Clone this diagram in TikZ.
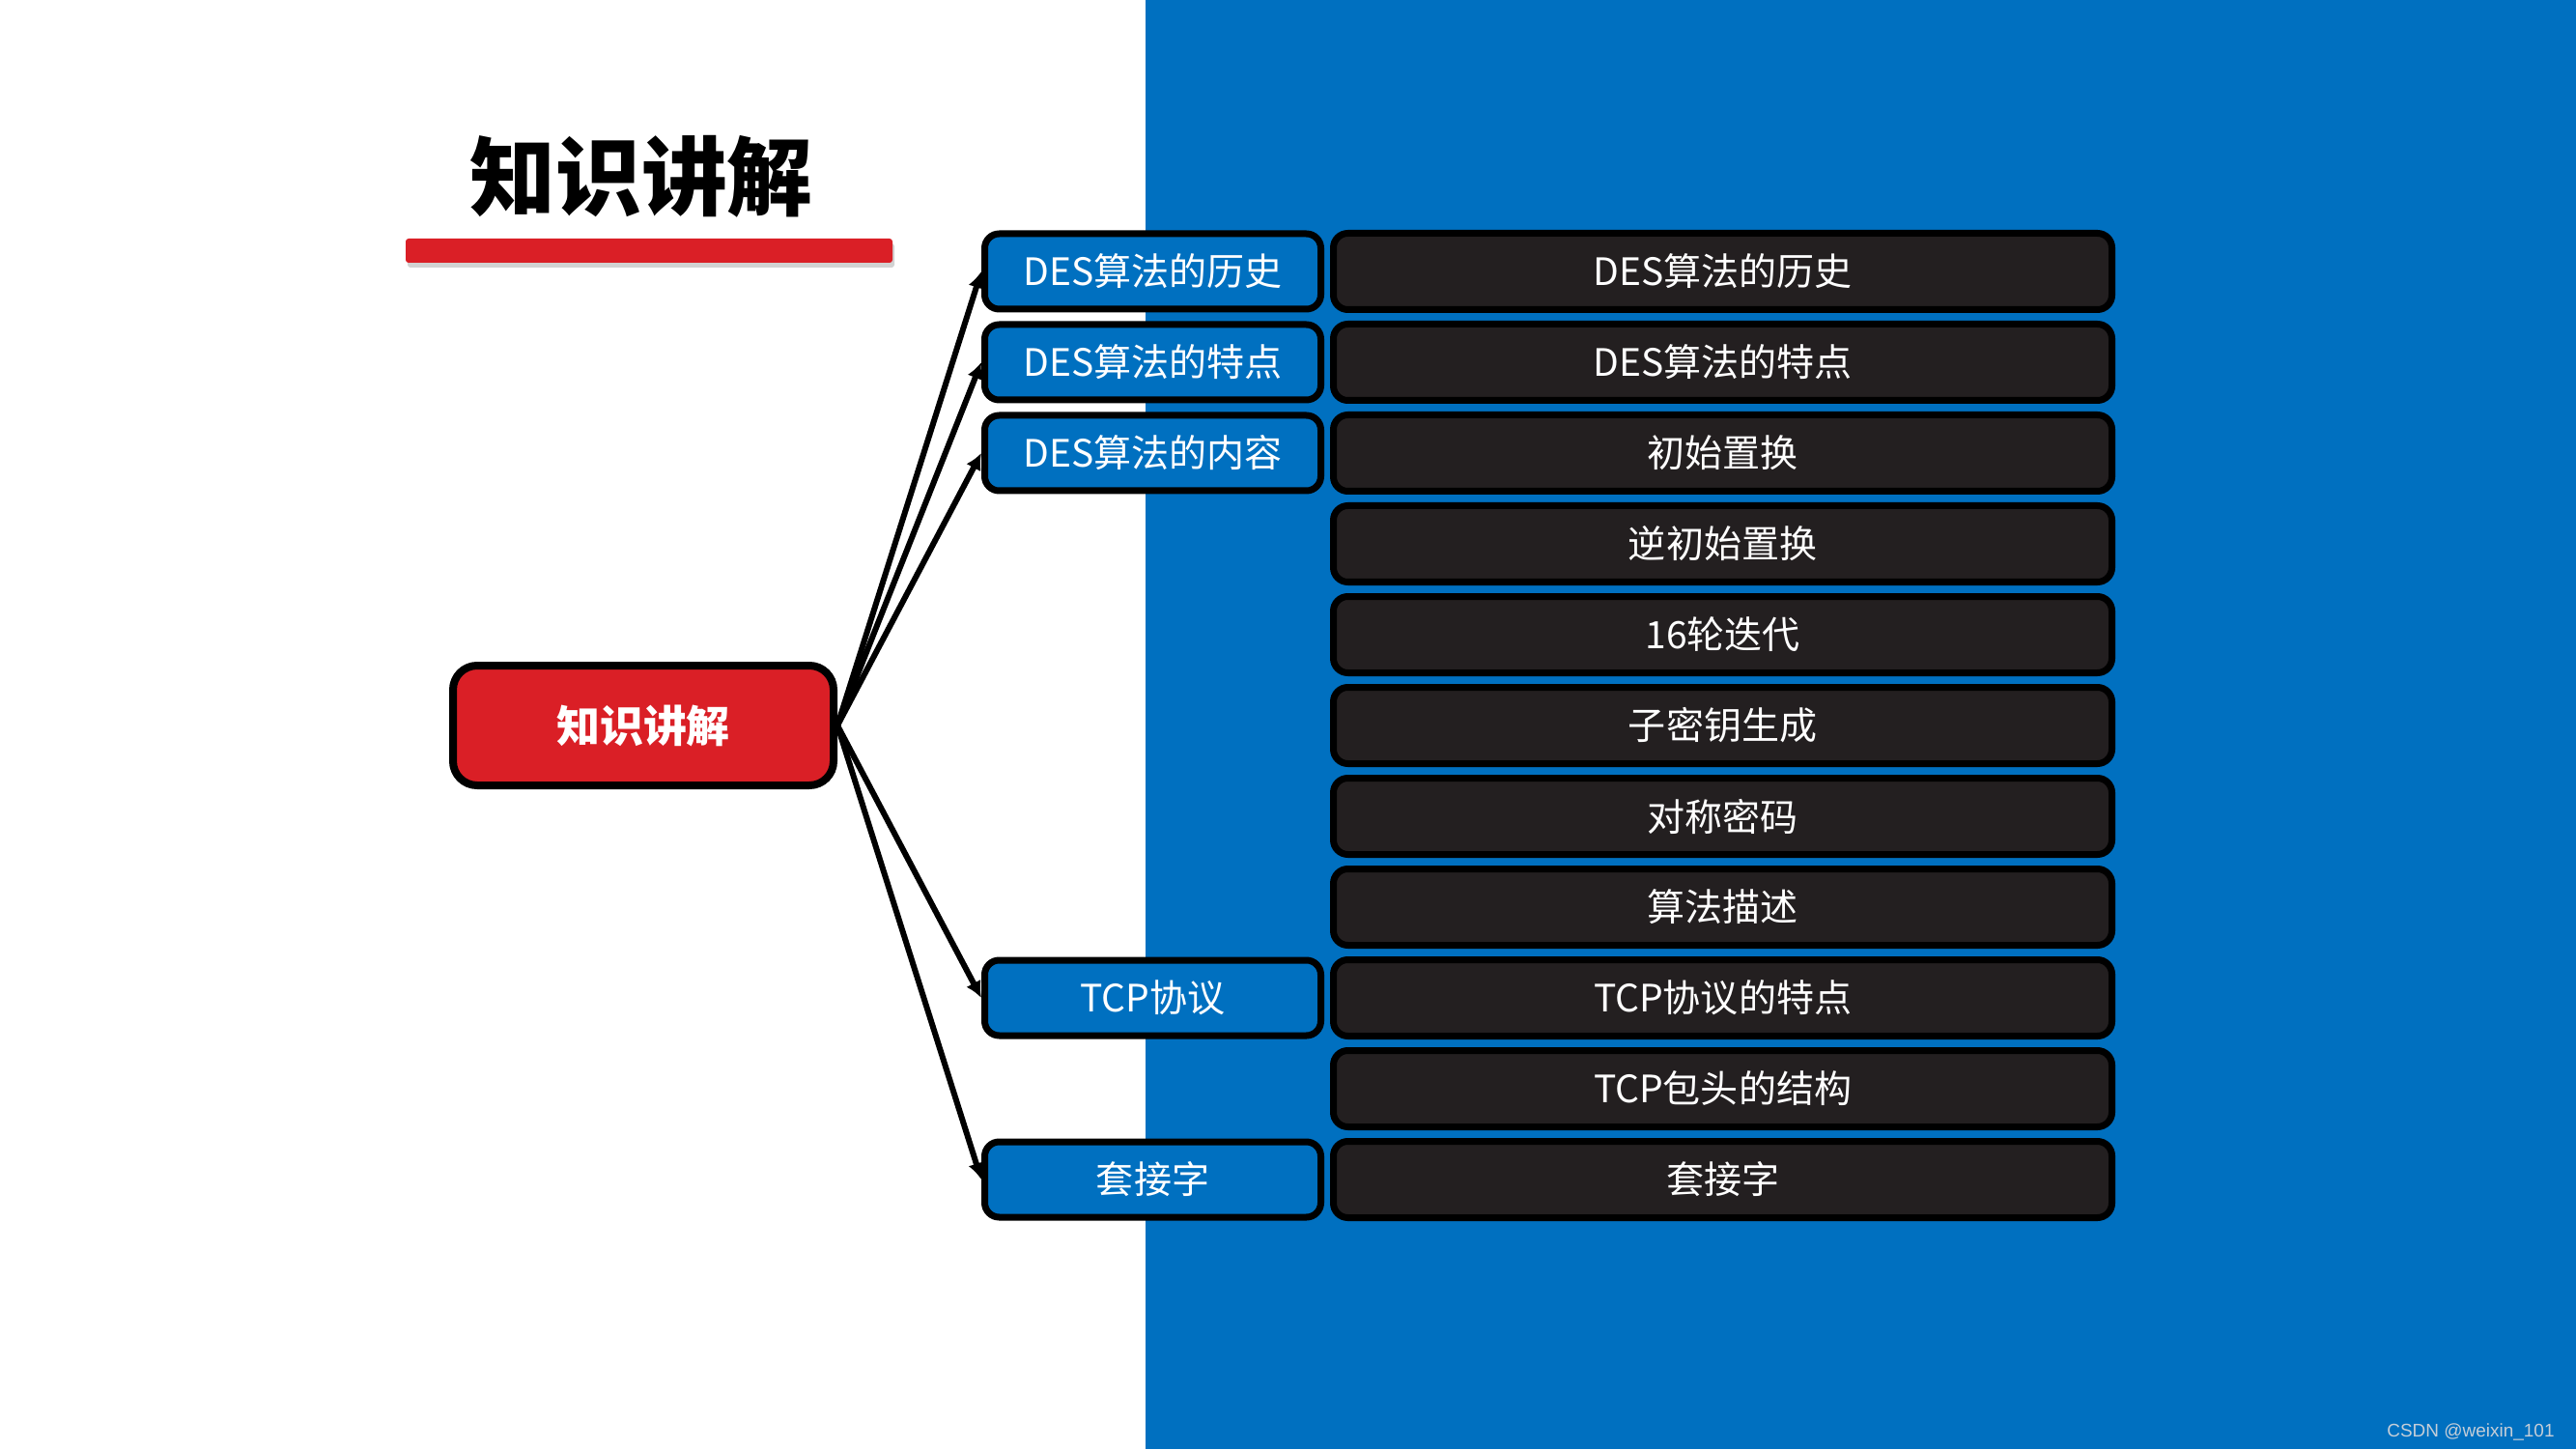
\documentclass[tikz,border=0pt]{standalone}
\usepackage{fontspec}
\setmainfont{Noto Sans CJK SC}
\newfontfamily\markfont{Liberation Sans}
\usepackage{xcolor}
\usepackage{tikz}
\usetikzlibrary{arrows.meta,positioning,shadows}
\definecolor{kjblue}{HTML}{0070C0}
\definecolor{kjred}{HTML}{DA1F26}
\definecolor{kjdark}{HTML}{231F20}
\definecolor{kjmark}{HTML}{C5CED8}
\tikzset{
  root/.style={rounded corners=0.25cm, draw=black, line width=0.08cm, fill=kjred, text=white, align=center, minimum width=3.94cm, minimum height=1.24cm, font=\fontsize{12.8}{15}\selectfont\bfseries},
  topic/.style={rounded corners=0.15cm, draw=black, line width=0.07cm, fill=kjblue, text=white, align=center, minimum width=3.48cm, minimum height=0.78cm, inner ysep=0pt, font=\fontsize{11.1}{13}\selectfont},
  detail/.style={rounded corners=0.15cm, draw=black, line width=0.07cm, fill=kjdark, text=white, align=center, minimum width=8.06cm, minimum height=0.79cm, inner ysep=0pt, font=\fontsize{11.1}{13}\selectfont},
  headline/.style={font=\fontsize{25.3}{30}\selectfont\bfseries, text=black},
  headbar/.style={rounded corners=0.03cm, fill=kjred, minimum width=5.04cm, minimum height=0.25cm, inner sep=0pt, drop shadow={shadow xshift=0.02cm, shadow yshift=-0.05cm, opacity=0.35}},
  arrow/.style={-{Latex[length=1.7mm, width=1.7mm]}, line width=0.06cm, draw=black}
}

\begin{document}
\begin{tikzpicture}[node distance=0.08cm and 0.06cm]
  \useasboundingbox (0,0) rectangle (26.67,15);
  \fill[white] (0,0) rectangle (26.67,15);
  \fill[kjblue] (11.86,0) rectangle (26.67,15);

  % title
  \node[headline] (title) at (6.64,13.17) {知识讲解};
  \node[headbar] (bar) at (6.72,12.405) {};

  % right column
  \node[detail] (d1) at (17.835,12.19) {DES算法的历史};
  \node[detail, below=of d1] (d2) {DES算法的特点};
  \node[detail, below=of d2] (d3) {初始置换};
  \node[detail, below=of d3] (d4) {逆初始置换};
  \node[detail, below=of d4] (d5) {16轮迭代};
  \node[detail, below=of d5] (d6) {子密钥生成};
  \node[detail, below=of d6] (d7) {对称密码};
  \node[detail, below=of d7] (d8) {算法描述};
  \node[detail, below=of d8] (d9) {TCP协议的特点};
  \node[detail, below=of d9] (d10) {TCP包头的结构};
  \node[detail, below=of d10] (d11) {套接字};

  % topics
  \node[topic, left=of d1] (history) {DES算法的历史};
  \node[topic, left=of d2] (feature) {DES算法的特点};
  \node[topic, left=of d3] (content) {DES算法的内容};
  \node[topic, left=of d9] (tcp) {TCP协议};
  \node[topic, left=of d11] (socket) {套接字};

  \node[root, left=5.10cm of d6] (root) {知识讲解};

  \draw[arrow] (root.east) -- (history.west);
  \draw[arrow] (root.east) -- (feature.west);
  \draw[arrow] (root.east) -- (content.west);
  \draw[arrow] (root.east) -- (tcp.west);
  \draw[arrow] (root.east) -- (socket.west);

  \node[anchor=east, text=kjmark, font=\markfont\fontsize{5.4}{6}\selectfont] (mark) at (26.57,0.18) {CSDN @weixin\_101};
\end{tikzpicture}
\end{document}
